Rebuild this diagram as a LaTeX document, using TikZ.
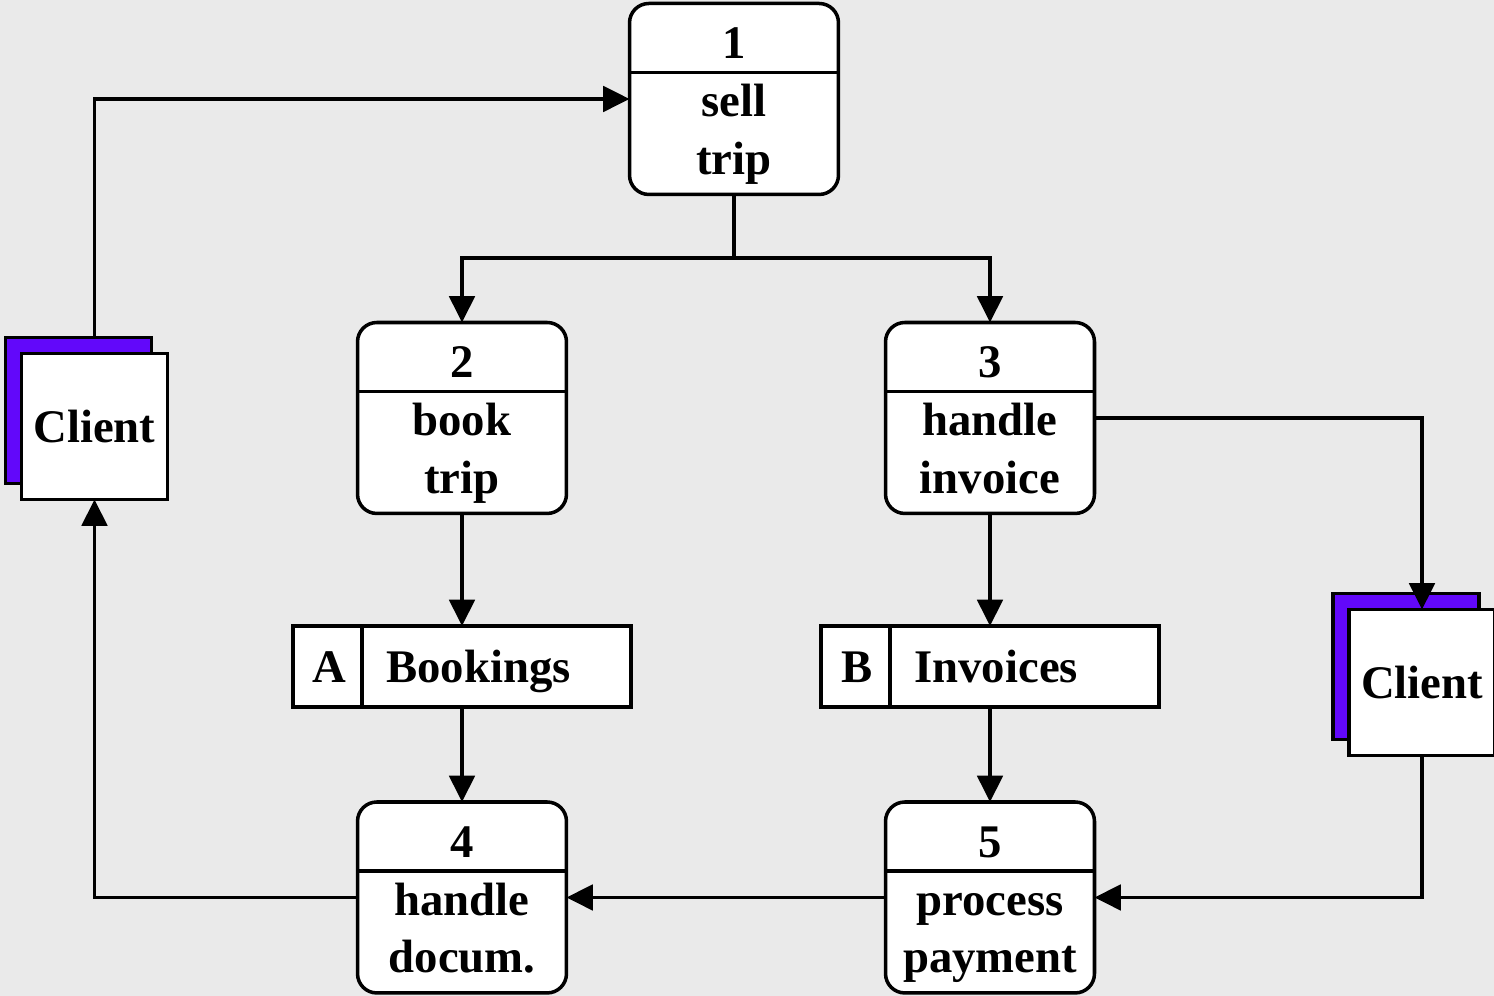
\documentclass[tikz,border=0pt]{standalone}
\usepackage{fontspec}
\setmainfont{Liberation Serif}
\usetikzlibrary{arrows.meta,calc}

\definecolor{canvas}{HTML}{EAEAEA}
\definecolor{extcol}{RGB}{98,8,250}

\tikzset{
  lw/.style={line width=2pt},
  procbox/.style={draw, lw, fill=white, rounded corners=11pt,
    minimum width=4.18cm, minimum height=3.82cm, inner sep=0pt, outer sep=0pt},
  storebox/.style={draw, lw, fill=white,
    minimum width=6.76cm, minimum height=1.62cm, inner sep=0pt, outer sep=0pt},
  extfront/.style={draw, lw, fill=white, minimum size=2.92cm, inner sep=0pt, outer sep=0pt},
  extback/.style={draw, lw, fill=extcol, minimum size=2.92cm, inner sep=0pt, outer sep=0pt},
  lbl/.style={font=\bfseries\fontsize{26.6}{32.7}\selectfont, inner sep=0pt, align=center},
  link/.style={lw},
  flow/.style={lw, -{Triangle[length=15pt,width=14.5pt]}},
}

% process box: name, x, top y, number, label
\newcommand\procnode[5]{%
  \node[procbox, anchor=north] (#1) at (#2,#3) {};
  \draw[lw] ($(#1.north west)+(0,69)$) -- ($(#1.north east)+(0,69)$);
  \node[lbl] (#1-num) at ($(#1.north)+(0,43.8)$) {\strut#4};
  \node[lbl] (#1-txt) at ($(#1.north)+(0,130.7)$) {#5};
}

% data store: name, centre x, id, label
\newcommand\storenode[4]{%
  \node[storebox] (#1) at (#2,666.5) {};
  \draw[lw] ($(#1.north west)+(69,0)$) -- ($(#1.south west)+(69,0)$);
  \node[lbl] (#1-id) at ($(#1.west)+(36,5)$) {\strut#3};
  \node[lbl, anchor=west] (#1-txt) at ($(#1.west)+(93,5)$) {\strut#4};
}

\begin{document}
\begin{tikzpicture}[x=0.02cm, y=-0.02cm]
  \useasboundingbox (0,0) rectangle (1494,996);
  \fill[canvas] (0,0) rectangle (1494,996);

  % processes
  \procnode{p1}{734}{3.5}{1}{\strut sell\\\strut trip}
  \procnode{p2}{462}{322.5}{2}{\strut book\\\strut trip}
  \procnode{p3}{990}{322.5}{3}{\strut handle\\\strut invoice}
  \procnode{p4}{462}{802}{4}{\strut handle\\\strut docum.}
  \procnode{p5}{990}{802}{5}{\strut process\\\strut payment}

  % data stores
  \storenode{sa}{462}{A}{Bookings}
  \storenode{sb}{990}{B}{Invoices}

  % external entities
  \node[extback] (clb) at (78.5,410.5) {};
  \node[extfront] (cl) at (94.5,426.5) {};
  \node[lbl] (cl-txt) at (cl.center) {Client};
  \node[extback] (crb) at (1406,666.5) {};
  \node[extfront] (cr) at (1422,682.5) {};
  \node[lbl] (cr-txt) at (cr.center) {Client};

  % data flows
  \coordinate (j1) at (734,258);
  \draw[link] (p1.south) -- (j1);
  \draw[flow] (j1) -| (p2.north);
  \draw[flow] (j1) -| (p3.north);
  \draw[flow] (cl.north |- clb.north) |- (p1.west);
  \draw[flow] (p3.east) -| (cr.north);
  \draw[flow] (p2.south) -- (sa.north);
  \draw[flow] (sa.south) -- (p4.north);
  \draw[flow] (p3.south) -- (sb.north);
  \draw[flow] (sb.south) -- (p5.north);
  \draw[flow] (cr.south) |- (p5.east);
  \draw[flow] (p5.west) -- (p4.east);
  \draw[flow] (p4.west) -| (cl.south);
\end{tikzpicture}
\end{document}
